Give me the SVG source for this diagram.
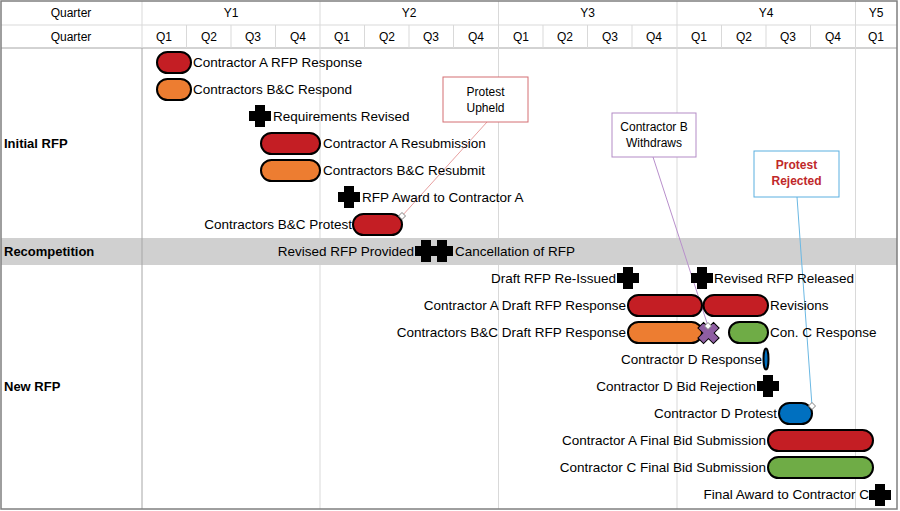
<svg xmlns="http://www.w3.org/2000/svg" width="900" height="511" viewBox="0 0 900 511">
<style>
text{font-family:"Liberation Sans",Arial,sans-serif;font-size:13.5px;fill:#000;dominant-baseline:central}
.hd{font-size:12px;text-anchor:middle}
.sec{font-weight:bold;font-size:13px}
.e{text-anchor:end}
.co{font-size:12px;text-anchor:middle}
.cr{font-size:12px;text-anchor:middle;font-weight:bold;fill:#C0282A}
.bar{stroke:#000;stroke-width:2}
.red{fill:#C41E24}.org{fill:#ED7D31}.grn{fill:#6FAC46}.blu{fill:#0070C0}
.gl{stroke:#d9d9d9;stroke-width:1}
.dk{stroke:#a6a6a6;stroke-width:1}
.dm{fill:#fff;stroke:#808080;stroke-width:1}
</style>
<defs>
<path id="plus" d="M-5,-11h10v6h6v10h-6v6h-10v-6h-6v-10h6z" fill="#000"/>
<path id="dia" d="M0,-3.5L3.5,0L0,3.5L-3.5,0z" class="dm"/>
</defs>
<rect x="0" y="0" width="900" height="511" fill="#fff"/>
<g id="grid">
<rect x="1" y="238" width="896" height="27" fill="#d0d0d0"/>
<line class="gl" x1="1" y1="25" x2="897" y2="25"/>
<line class="dk" x1="1" y1="48" x2="897" y2="48"/>
<line class="gl" x1="142" y1="1" x2="142" y2="48"/>
<line class="dk" x1="142" y1="48" x2="142" y2="509"/>
<g class="gl">
<line x1="186.5" y1="25" x2="186.5" y2="48"/><line x1="231" y1="25" x2="231" y2="48"/><line x1="275.5" y1="25" x2="275.5" y2="48"/>
<line x1="364.5" y1="25" x2="364.5" y2="48"/><line x1="409" y1="25" x2="409" y2="48"/><line x1="453.5" y1="25" x2="453.5" y2="48"/>
<line x1="543" y1="25" x2="543" y2="48"/><line x1="587.5" y1="25" x2="587.5" y2="48"/><line x1="632" y1="25" x2="632" y2="48"/>
<line x1="721.5" y1="25" x2="721.5" y2="48"/><line x1="766" y1="25" x2="766" y2="48"/><line x1="810.5" y1="25" x2="810.5" y2="48"/>
<line x1="320" y1="1" x2="320" y2="238"/><line x1="320" y1="265" x2="320" y2="509"/>
<line x1="498.5" y1="1" x2="498.5" y2="238"/><line x1="498.5" y1="265" x2="498.5" y2="509"/>
<line x1="677" y1="1" x2="677" y2="238"/><line x1="677" y1="265" x2="677" y2="509"/>
<line x1="855.5" y1="1" x2="855.5" y2="238"/><line x1="855.5" y1="265" x2="855.5" y2="509"/>
</g>
<rect x="1" y="1" width="896" height="508" fill="none" stroke="#7f7f7f" stroke-width="1.5"/>
<text class="hd" x="71" y="13">Quarter</text>
<text class="hd" x="71" y="37">Quarter</text>
<text class="hd" x="231" y="13">Y1</text><text class="hd" x="409" y="13">Y2</text><text class="hd" x="587.5" y="13">Y3</text><text class="hd" x="766" y="13">Y4</text><text class="hd" x="876" y="13">Y5</text>
<text class="hd" x="164" y="37">Q1</text><text class="hd" x="209" y="37">Q2</text><text class="hd" x="253" y="37">Q3</text><text class="hd" x="298" y="37">Q4</text>
<text class="hd" x="342" y="37">Q1</text><text class="hd" x="387" y="37">Q2</text><text class="hd" x="431" y="37">Q3</text><text class="hd" x="476" y="37">Q4</text>
<text class="hd" x="521" y="37">Q1</text><text class="hd" x="565" y="37">Q2</text><text class="hd" x="610" y="37">Q3</text><text class="hd" x="654" y="37">Q4</text>
<text class="hd" x="699" y="37">Q1</text><text class="hd" x="744" y="37">Q2</text><text class="hd" x="788" y="37">Q3</text><text class="hd" x="833" y="37">Q4</text>
<text class="hd" x="876" y="37">Q1</text>
<text class="sec" x="4" y="143">Initial RFP</text>
<text class="sec" x="4" y="251">Recompetition</text>
<text class="sec" x="4" y="386">New RFP</text>
</g>
<g id="connectors">
<line x1="487" y1="122" x2="402" y2="216" stroke="#E8A0A0" stroke-width="1"/>
<line x1="653" y1="157" x2="708" y2="326" stroke="#B88FCB" stroke-width="1"/>
<line x1="797" y1="197" x2="812" y2="406" stroke="#6BB8E3" stroke-width="1"/>
</g>
<g id="n1"><rect class="bar red" x="157" y="52" width="34" height="21" rx="10.5"/><text x="193" y="62">Contractor A RFP Response</text></g>
<g id="n2"><rect class="bar org" x="157" y="79" width="34" height="21" rx="10.5"/><text x="193" y="89">Contractors B&amp;C Respond</text></g>
<g id="n3"><use href="#plus" x="260" y="116"/><text x="273" y="116">Requirements Revised</text></g>
<g id="n4"><rect class="bar red" x="261" y="133" width="59" height="21" rx="10.5"/><text x="323" y="143">Contractor A Resubmission</text></g>
<g id="n5"><rect class="bar org" x="261" y="160" width="59" height="21" rx="10.5"/><text x="323" y="170">Contractors B&amp;C Resubmit</text></g>
<g id="n6"><use href="#plus" x="349" y="197"/><text x="362" y="197">RFP Award to Contractor A</text></g>
<g id="n7"><rect class="bar red" x="353" y="214" width="49" height="21" rx="10.5"/><text class="e" x="352" y="224">Contractors B&amp;C Protest</text><use href="#dia" x="402" y="216"/></g>
<g id="n8"><use href="#plus" x="426" y="251"/><text class="e" x="414" y="251">Revised RFP Provided</text></g>
<g id="n9"><use href="#plus" x="442" y="251"/><text x="455" y="251">Cancellation of RFP</text></g>
<g id="n10"><use href="#plus" x="628" y="278"/><text class="e" x="616" y="278">Draft RFP Re-Issued</text></g>
<g id="n11"><use href="#plus" x="702" y="278"/><text x="714" y="278">Revised RFP Released</text></g>
<g id="n12"><rect class="bar red" x="628" y="295" width="74" height="21" rx="10.5"/><text class="e" x="626" y="305">Contractor A Draft RFP Response</text></g>
<g id="n13"><rect class="bar red" x="703.5" y="295" width="64.5" height="21" rx="10.5"/><text x="770" y="305">Revisions</text></g>
<g id="n14"><rect class="bar org" x="628" y="322" width="74" height="21" rx="10.5"/><text class="e" x="626" y="332">Contractors B&amp;C Draft RFP Response</text></g>
<g id="n15"><path d="M-4,-11h8v7h7v8h-7v7h-8v-7h-7v-8h7z" transform="translate(708.5,333) rotate(45)" fill="#8E5EA2" stroke="#000" stroke-width="1"/><use href="#dia" x="708" y="326"/></g>
<g id="n16"><rect class="bar grn" x="729" y="322" width="39" height="21" rx="10.5"/><text x="770" y="332">Con. C Response</text></g>
<g id="n17"><ellipse class="bar blu" cx="766" cy="359" rx="2.5" ry="10.5" stroke-width="1.5"/><text class="e" x="762" y="359">Contractor D Response</text></g>
<g id="n18"><use href="#plus" x="768" y="386"/><text class="e" x="756" y="386">Contractor D Bid Rejection</text></g>
<g id="n19"><rect class="bar blu" x="779" y="403" width="33" height="21" rx="10.5"/><text class="e" x="777" y="413">Contractor D Protest</text><use href="#dia" x="812" y="406"/></g>
<g id="n20"><rect class="bar red" x="768" y="430" width="105" height="21" rx="10.5"/><text class="e" x="766" y="440">Contractor A Final Bid Submission</text></g>
<g id="n21"><rect class="bar grn" x="768" y="457" width="105" height="21" rx="10.5"/><text class="e" x="766" y="467">Contractor C Final Bid Submission</text></g>
<g id="n22"><use href="#plus" x="880" y="495"/><text class="e" x="869" y="494">Final Award to Contractor C</text></g>
<g id="c1"><rect x="443" y="77" width="85" height="45" fill="#fff" stroke="#D46F73" stroke-width="1"/><text class="co" x="485.5" y="92">Protest</text><text class="co" x="485.5" y="108">Upheld</text></g>
<g id="c2"><rect x="612" y="113" width="84" height="44" fill="#fff" stroke="#B38BC6" stroke-width="1"/><text class="co" x="654" y="127">Contractor B</text><text class="co" x="654" y="143">Withdraws</text></g>
<g id="c3"><rect x="754" y="151" width="85" height="46" fill="#fff" stroke="#5AAFE0" stroke-width="1"/><text class="cr" x="796.5" y="165">Protest</text><text class="cr" x="796.5" y="181">Rejected</text></g>
</svg>
